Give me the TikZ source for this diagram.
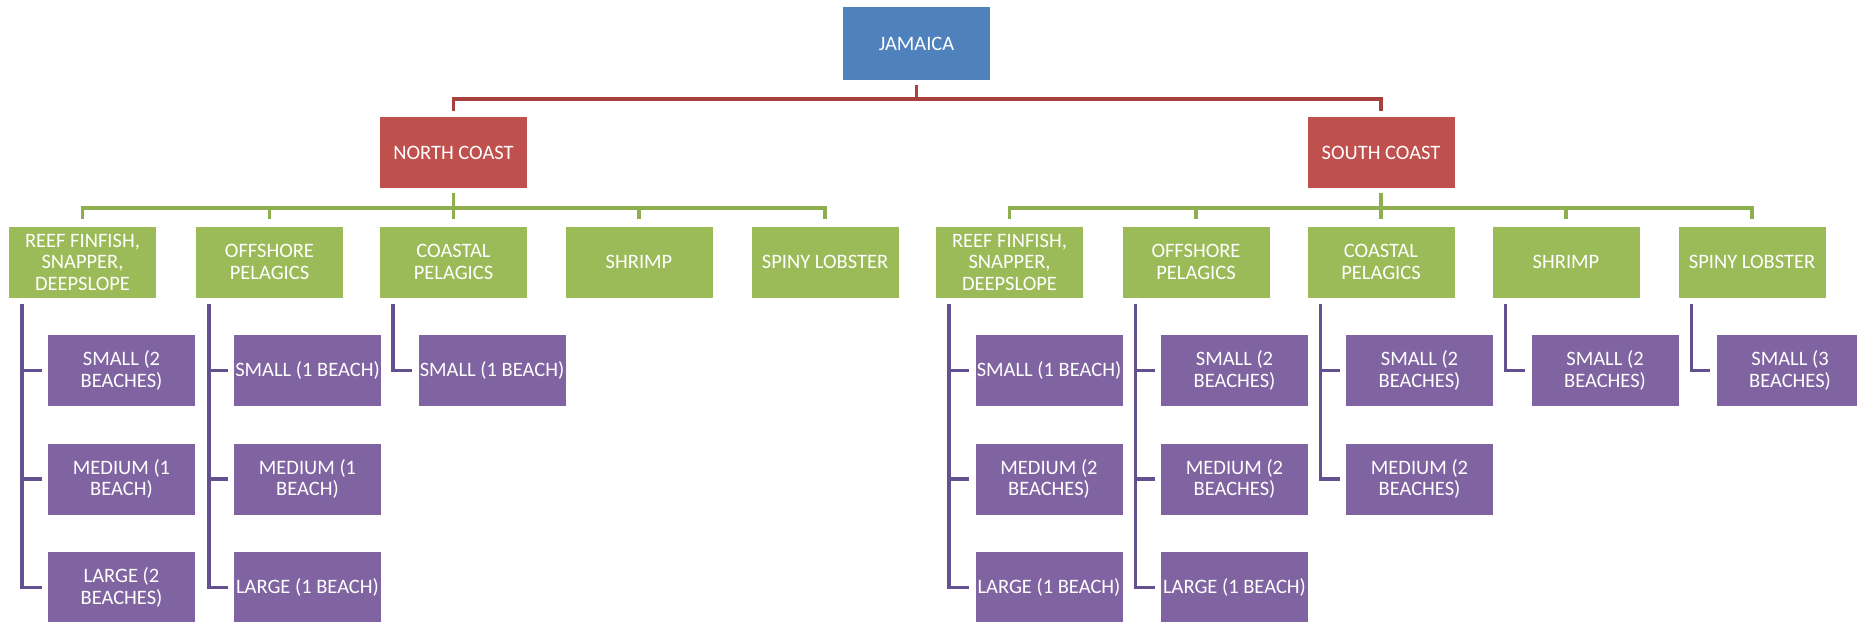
\documentclass[tikz,border=0pt]{standalone}
\usepackage{fontspec}
\setmainfont{Carlito}
\definecolor{cblue}{HTML}{4F81BD}
\definecolor{cred}{HTML}{C0504D}
\definecolor{cgreen}{HTML}{9BBB59}
\definecolor{cpurple}{HTML}{8064A2}
\definecolor{lred}{HTML}{A8403F}
\definecolor{lgreen}{HTML}{8DAF4F}
\definecolor{lpurple}{HTML}{62508F}
\tikzset{
  box/.style={rectangle, draw=none, minimum width=147pt, minimum height=71pt, inner sep=0pt,
    align=center, text=white, font=\fontsize{20.5}{21.5}\selectfont},
  topbox/.style={box, fill=cblue, minimum height=73pt},
  coastbox/.style={box, fill=cred},
  fishbox/.style={box, fill=cgreen},
  sizebox/.style={box, fill=cpurple},
  redline/.style={draw=lred, line width=3.5pt, shorten <=5pt, shorten >=6pt},
  greenline/.style={draw=lgreen, line width=3.5pt, shorten <=5pt, shorten >=7pt},
  purpleline/.style={draw=lpurple, line width=3.5pt, shorten <=6pt, shorten >=6pt},
}
\begin{document}
\begin{tikzpicture}[x=1pt, y=-1pt]
\useasboundingbox (0,0) rectangle (1857,621);
\coordinate (redbus) at (0,99);
\coordinate (greenbus) at (0,208);
% top
\node[topbox] (jam) at (916.5,43.5) {JAMAICA};
\node[coastbox] (nc) at (453.5,152.5) {NORTH COAST};
\node[coastbox] (sc) at (1381,152.5) {SOUTH COAST};
% north fisheries
\node[fishbox] (n1) at (82.5,262) {REEF FINFISH,\\SNAPPER,\\DEEPSLOPE};
\node[fishbox] (n2) at (269.5,262) {OFFSHORE\\PELAGICS};
\node[fishbox] (n3) at (453.5,262) {COASTAL\\PELAGICS};
\node[fishbox] (n4) at (639,262) {SHRIMP};
\node[fishbox] (n5) at (825,262) {SPINY LOBSTER};
% south fisheries
\node[fishbox] (s1) at (1009.5,262) {REEF FINFISH,\\SNAPPER,\\DEEPSLOPE};
\node[fishbox] (s2) at (1196,262) {OFFSHORE\\PELAGICS};
\node[fishbox] (s3) at (1381,262) {COASTAL\\PELAGICS};
\node[fishbox] (s4) at (1566,262) {SHRIMP};
\node[fishbox] (s5) at (1752,262) {SPINY LOBSTER};
% north sizes
\node[sizebox] (n1a) at (121.5,370.5) {SMALL (2\\BEACHES)};
\node[sizebox] (n1b) at (121.5,479) {MEDIUM (1\\BEACH)};
\node[sizebox] (n1c) at (121.5,587.5) {LARGE (2\\BEACHES)};
\node[sizebox] (n2a) at (307.5,370.5) {SMALL (1 BEACH)};
\node[sizebox] (n2b) at (307.5,479) {MEDIUM (1\\BEACH)};
\node[sizebox] (n2c) at (307.5,587.5) {LARGE (1 BEACH)};
\node[sizebox] (n3a) at (492,370.5) {SMALL (1 BEACH)};
% south sizes
\node[sizebox] (s1a) at (1049,370.5) {SMALL (1 BEACH)};
\node[sizebox] (s1b) at (1049,479) {MEDIUM (2\\BEACHES)};
\node[sizebox] (s1c) at (1049,587.5) {LARGE (1 BEACH)};
\node[sizebox] (s2a) at (1234.5,370.5) {SMALL (2\\BEACHES)};
\node[sizebox] (s2b) at (1234.5,479) {MEDIUM (2\\BEACHES)};
\node[sizebox] (s2c) at (1234.5,587.5) {LARGE (1 BEACH)};
\node[sizebox] (s3a) at (1419.5,370.5) {SMALL (2\\BEACHES)};
\node[sizebox] (s3b) at (1419.5,479) {MEDIUM (2\\BEACHES)};
\node[sizebox] (s4a) at (1605,370.5) {SMALL (2\\BEACHES)};
\node[sizebox] (s5a) at (1790,370.5) {SMALL (3\\BEACHES)};
% red connectors
\draw[redline] (jam.south) -- (jam.south |- redbus) -| (nc.north);
\draw[redline] (jam.south) -- (jam.south |- redbus) -| (sc.north);
% green connectors
\foreach \c in {n1,n2,n3,n4,n5}
  \draw[greenline] (nc.south) -- (nc.south |- greenbus) -| (\c.north);
\foreach \c in {s1,s2,s3,s4,s5}
  \draw[greenline] (sc.south) -- (sc.south |- greenbus) -| (\c.north);
% purple connectors
\foreach \p/\c in {n1/n1a,n1/n1b,n1/n1c,n2/n2a,n2/n2b,n2/n2c,n3/n3a,
                   s1/s1a,s1/s1b,s1/s1c,s2/s2a,s2/s2b,s2/s2c,s3/s3a,s3/s3b,s4/s4a,s5/s5a}
  \draw[purpleline] ([xshift=13pt]\p.south west) |- (\c.west);
\end{tikzpicture}
\end{document}
